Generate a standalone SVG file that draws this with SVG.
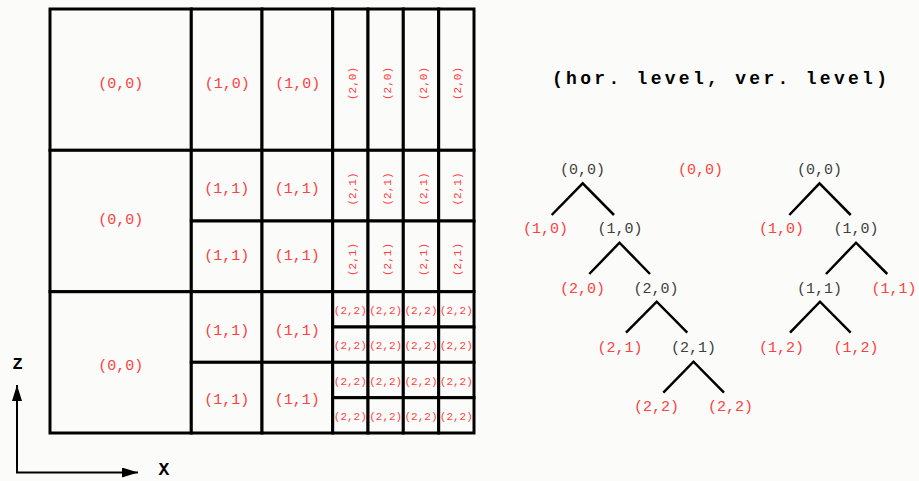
<svg xmlns="http://www.w3.org/2000/svg" width="919" height="481" viewBox="0 0 919 481">
<style>
.cell{fill:#fbfcfa;stroke:#000;stroke-width:3}
.lbl{font-family:"Liberation Mono","Courier New",monospace;font-size:15px;fill:#ff4040;text-anchor:middle}
.sm{font-family:"Liberation Mono","Courier New",monospace;font-size:11px;fill:#ff4040;text-anchor:middle}
.gr{fill:#404040}
.edge{stroke:#000;stroke-width:2.5;fill:none}
.axis{stroke:#000;stroke-width:2;fill:none}
.ax{font-family:"Liberation Mono","Courier New",monospace;font-weight:bold;fill:#000;text-anchor:middle}
</style>
<defs>
<marker id="ah" viewBox="0 0 16 10" refX="16" refY="5" markerWidth="16" markerHeight="10" markerUnits="userSpaceOnUse" orient="auto">
<path d="M0,0 L16,5 L0,10 Z" fill="#000"/>
</marker>
</defs>
<rect x="0" y="0" width="919" height="481" fill="#fbfcfa"/>

<g id="grid">
<g id="c00a"><rect class="cell" x="50" y="9" width="141.3" height="141.3"/><text class="lbl" x="120.7" y="87.5">(0,0)</text></g>
<g id="c00b"><rect class="cell" x="50" y="150.3" width="141.3" height="141.4"/><text class="lbl" x="120.7" y="223.5">(0,0)</text></g>
<g id="c00c"><rect class="cell" x="50" y="291.7" width="141.3" height="141.3"/><text class="lbl" x="120.7" y="370">(0,0)</text></g>

<g id="c10a"><rect class="cell" x="191.3" y="9" width="70.7" height="141.3"/><text class="lbl" x="227.2" y="87.5">(1,0)</text></g>
<g id="c10b"><rect class="cell" x="262" y="9" width="70.7" height="141.3"/><text class="lbl" x="297.8" y="87.5">(1,0)</text></g>

<g id="c11a"><rect class="cell" x="191.3" y="150.3" width="70.7" height="70.7"/><text class="lbl" x="226.7" y="193">(1,1)</text></g>
<g id="c11b"><rect class="cell" x="262" y="150.3" width="70.7" height="70.7"/><text class="lbl" x="297.3" y="193">(1,1)</text></g>
<g id="c11c"><rect class="cell" x="191.3" y="221" width="70.7" height="70.7"/><text class="lbl" x="226.7" y="260">(1,1)</text></g>
<g id="c11d"><rect class="cell" x="262" y="221" width="70.7" height="70.7"/><text class="lbl" x="297.3" y="260">(1,1)</text></g>
<g id="c11e"><rect class="cell" x="191.3" y="291.7" width="70.7" height="70.6"/><text class="lbl" x="226.7" y="335">(1,1)</text></g>
<g id="c11f"><rect class="cell" x="262" y="291.7" width="70.7" height="70.6"/><text class="lbl" x="297.3" y="335">(1,1)</text></g>
<g id="c11g"><rect class="cell" x="191.3" y="362.3" width="70.7" height="70.7"/><text class="lbl" x="226.7" y="404">(1,1)</text></g>
<g id="c11h"><rect class="cell" x="262" y="362.3" width="70.7" height="70.7"/><text class="lbl" x="297.3" y="404">(1,1)</text></g>

<g id="c20a"><rect class="cell" x="332.7" y="9" width="35.3" height="141.3"/><text class="sm" transform="translate(356,83.5) rotate(-90)">(2,0)</text></g>
<g id="c20b"><rect class="cell" x="368" y="9" width="35.3" height="141.3"/><text class="sm" transform="translate(391.3,83.5) rotate(-90)">(2,0)</text></g>
<g id="c20c"><rect class="cell" x="403.3" y="9" width="35.4" height="141.3"/><text class="sm" transform="translate(426.7,83.5) rotate(-90)">(2,0)</text></g>
<g id="c20d"><rect class="cell" x="438.7" y="9" width="35.3" height="141.3"/><text class="sm" transform="translate(461.3,83.5) rotate(-90)">(2,0)</text></g>

<g id="c21a"><rect class="cell" x="332.7" y="150.3" width="35.3" height="70.7"/><text class="sm" transform="translate(356,189) rotate(-90)">(2,1)</text></g>
<g id="c21b"><rect class="cell" x="368" y="150.3" width="35.3" height="70.7"/><text class="sm" transform="translate(391.3,189) rotate(-90)">(2,1)</text></g>
<g id="c21c"><rect class="cell" x="403.3" y="150.3" width="35.4" height="70.7"/><text class="sm" transform="translate(426.7,189) rotate(-90)">(2,1)</text></g>
<g id="c21d"><rect class="cell" x="438.7" y="150.3" width="35.3" height="70.7"/><text class="sm" transform="translate(461.3,189) rotate(-90)">(2,1)</text></g>
<g id="c21e"><rect class="cell" x="332.7" y="221" width="35.3" height="70.7"/><text class="sm" transform="translate(356,259.5) rotate(-90)">(2,1)</text></g>
<g id="c21f"><rect class="cell" x="368" y="221" width="35.3" height="70.7"/><text class="sm" transform="translate(391.3,259.5) rotate(-90)">(2,1)</text></g>
<g id="c21g"><rect class="cell" x="403.3" y="221" width="35.4" height="70.7"/><text class="sm" transform="translate(426.7,259.5) rotate(-90)">(2,1)</text></g>
<g id="c21h"><rect class="cell" x="438.7" y="221" width="35.3" height="70.7"/><text class="sm" transform="translate(461.3,259.5) rotate(-90)">(2,1)</text></g>

<g id="c22r1">
<rect class="cell" x="332.7" y="291.7" width="35.3" height="35.3"/><text class="sm" x="350.3" y="314">(2,2)</text>
<rect class="cell" x="368" y="291.7" width="35.3" height="35.3"/><text class="sm" x="385.7" y="314">(2,2)</text>
<rect class="cell" x="403.3" y="291.7" width="35.4" height="35.3"/><text class="sm" x="421" y="314">(2,2)</text>
<rect class="cell" x="438.7" y="291.7" width="35.3" height="35.3"/><text class="sm" x="456.3" y="314">(2,2)</text>
</g>
<g id="c22r2">
<rect class="cell" x="332.7" y="327" width="35.3" height="35.3"/><text class="sm" x="350.3" y="348.5">(2,2)</text>
<rect class="cell" x="368" y="327" width="35.3" height="35.3"/><text class="sm" x="385.7" y="348.5">(2,2)</text>
<rect class="cell" x="403.3" y="327" width="35.4" height="35.3"/><text class="sm" x="421" y="348.5">(2,2)</text>
<rect class="cell" x="438.7" y="327" width="35.3" height="35.3"/><text class="sm" x="456.3" y="348.5">(2,2)</text>
</g>
<g id="c22r3">
<rect class="cell" x="332.7" y="362.3" width="35.3" height="35.4"/><text class="sm" x="350.3" y="384.5">(2,2)</text>
<rect class="cell" x="368" y="362.3" width="35.3" height="35.4"/><text class="sm" x="385.7" y="384.5">(2,2)</text>
<rect class="cell" x="403.3" y="362.3" width="35.4" height="35.4"/><text class="sm" x="421" y="384.5">(2,2)</text>
<rect class="cell" x="438.7" y="362.3" width="35.3" height="35.4"/><text class="sm" x="456.3" y="384.5">(2,2)</text>
</g>
<g id="c22r4">
<rect class="cell" x="332.7" y="397.7" width="35.3" height="35.3"/><text class="sm" x="350.3" y="419.5">(2,2)</text>
<rect class="cell" x="368" y="397.7" width="35.3" height="35.3"/><text class="sm" x="385.7" y="419.5">(2,2)</text>
<rect class="cell" x="403.3" y="397.7" width="35.4" height="35.3"/><text class="sm" x="421" y="419.5">(2,2)</text>
<rect class="cell" x="438.7" y="397.7" width="35.3" height="35.3"/><text class="sm" x="456.3" y="419.5">(2,2)</text>
</g>
</g>

<g id="axes">
<path class="axis" d="M17,472.5 L17,385" marker-end="url(#ah)"/>
<path class="axis" d="M16,472.5 L138,472.5" marker-end="url(#ah)"/>
<text class="ax" x="17.5" y="369" font-size="17">Z</text>
<text class="ax" x="164" y="475" font-size="18">X</text>
</g>

<g id="title">
<text x="552" y="83.5" font-family="'Liberation Mono','Courier New',monospace" font-weight="bold" font-size="18" textLength="335" lengthAdjust="spacing" fill="#000">(hor. level, ver. level)</text>
</g>

<g id="connectors">
<path class="edge" d="M551.7,215 L582.7,183.3 L614,215"/>
<path class="edge" d="M589.3,274 L619.5,242.7 L650,274"/>
<path class="edge" d="M626,332.7 L656.7,301.7 L687.3,332.7"/>
<path class="edge" d="M663.3,392.7 L693.5,361.7 L724,392.7"/>
<path class="edge" d="M789.3,215 L819.5,183.3 L850.7,215"/>
<path class="edge" d="M826,274 L856,242.7 L887.3,274"/>
<path class="edge" d="M790,332.7 L820,301.7 L850.7,332.7"/>
</g>

<g id="tree1">
<g id="t1n00"><text class="lbl gr" x="582.5" y="174">(0,0)</text></g>
<g id="t1n10r"><text class="lbl" x="545.5" y="232.5">(1,0)</text></g>
<g id="t1n10"><text class="lbl gr" x="620" y="232.5">(1,0)</text></g>
<g id="t1n20r"><text class="lbl" x="582.5" y="292.5">(2,0)</text></g>
<g id="t1n20"><text class="lbl gr" x="656" y="292.5">(2,0)</text></g>
<g id="t1n21r"><text class="lbl" x="620" y="352">(2,1)</text></g>
<g id="t1n21"><text class="lbl gr" x="693.5" y="352">(2,1)</text></g>
<g id="t1n22a"><text class="lbl" x="656.5" y="411">(2,2)</text></g>
<g id="t1n22b"><text class="lbl" x="730.5" y="411">(2,2)</text></g>
</g>

<g id="tree0"><text class="lbl" x="700.5" y="174">(0,0)</text></g>

<g id="tree2">
<g id="t2n00"><text class="lbl gr" x="819.5" y="174">(0,0)</text></g>
<g id="t2n10r"><text class="lbl" x="781.5" y="232.5">(1,0)</text></g>
<g id="t2n10"><text class="lbl gr" x="856" y="232.5">(1,0)</text></g>
<g id="t2n11"><text class="lbl gr" x="819.5" y="292.5">(1,1)</text></g>
<g id="t2n11r"><text class="lbl" x="894" y="292.5">(1,1)</text></g>
<g id="t2n12a"><text class="lbl" x="781.5" y="352">(1,2)</text></g>
<g id="t2n12b"><text class="lbl" x="856" y="352">(1,2)</text></g>
</g>
</svg>
